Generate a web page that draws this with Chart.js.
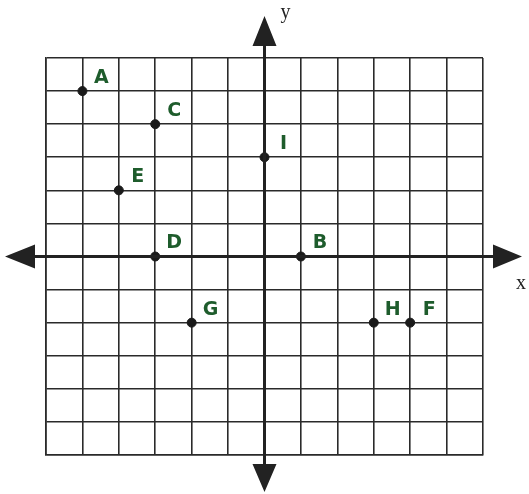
<!DOCTYPE html>
<title>Coordinate grid</title>
<meta charset="UTF-8">
<style>
body { margin:0; background:#fff; }
#wrap { width:529px; height:494px; }
</style>
<body>
<script src="https://cdn.jsdelivr.net/npm/chart.js@4/dist/chart.umd.min.js"></script>
<div id="wrap"><canvas id="chart1"></canvas></div>
<script>
var names = ["A", "B", "C", "D", "E", "F", "G", "H", "I"];
var xs = [-5, 1, -3, -3, -4, 4, -2, 3, 0];
var ys = [5, 0, 4, 0, 2, -2, -2, -2, 3];
var axisMin = -6, axisMax = 6;

var pts = [];
for (var i = 0; i < names.length; i++) {
	pts.push({x: xs[i], y: ys[i], name: names[i]});
}

var ink = "#222";
var green = "#1e5c2c";

// axes through 0 with arrow heads, plus letters next to the dots
var extras = {
	id: "extras",
	afterDatasetsDraw: function(chart) {
		var c = chart.ctx;
		var sx = chart.scales.x, sy = chart.scales.y;
		var x0 = sx.getPixelForValue(0), y0 = sy.getPixelForValue(0);
		c.save();
		c.strokeStyle = ink;
		c.fillStyle = ink;
		c.lineWidth = 3;
		c.beginPath();
		c.moveTo(10, y0); c.lineTo(515, y0);
		c.moveTo(x0, 20); c.lineTo(x0, 485);
		c.stroke();
		// arrow heads
		c.beginPath();
		c.moveTo(5, y0); c.lineTo(35, y0 - 12); c.lineTo(35, y0 + 12); c.closePath();
		c.moveTo(522, y0); c.lineTo(493, y0 - 12); c.lineTo(493, y0 + 12); c.closePath();
		c.moveTo(x0, 16); c.lineTo(x0 - 12, 46); c.lineTo(x0 + 12, 46); c.closePath();
		c.moveTo(x0, 492); c.lineTo(x0 - 12, 464); c.lineTo(x0 + 12, 464); c.closePath();
		c.fill();
		c.font = "20px 'Liberation Serif'";
		c.textAlign = "center";
		c.textBaseline = "middle";
		c.fillText("y", x0 + 21, 13);
		c.fillText("x", 521, y0 + 27);
		// letters
		c.fillStyle = green;
		c.font = "bold 19px 'DejaVu Sans'";
		var meta = chart.getDatasetMeta(0);
		meta.data.forEach(function(el, k) {
			c.fillText(pts[k].name, el.x + 19, el.y - 13);
		});
		c.restore();
	}
};

new Chart("chart1", {
	type: "scatter",
	data: {
		datasets: [{
			data: pts,
			pointRadius: 4.5,
			pointHoverRadius: 4.5,
			backgroundColor: "#1a1a1a",
			borderColor: "#1a1a1a"
		}]
	},
	options: {
		responsive: true,
		maintainAspectRatio: false,
		animation: false,
		layout: { padding: {left: 46, right: 46, top: 58, bottom: 39} },
		plugins: { legend: {display: false}, tooltip: {enabled: false} },
		scales: {
			x: {
				min: axisMin, max: axisMax,
				ticks: {display: false, stepSize: 1},
				grid: {color: "#2a2a2a", lineWidth: 1.6, drawTicks: false},
				border: {display: true, color: "#2a2a2a", width: 1.6}
			},
			y: {
				min: axisMin, max: axisMax,
				ticks: {display: false, stepSize: 1},
				grid: {color: "#2a2a2a", lineWidth: 1.6, drawTicks: false},
				border: {display: true, color: "#2a2a2a", width: 1.6}
			}
		}
	},
	plugins: [extras]
});
</script>
</body>
